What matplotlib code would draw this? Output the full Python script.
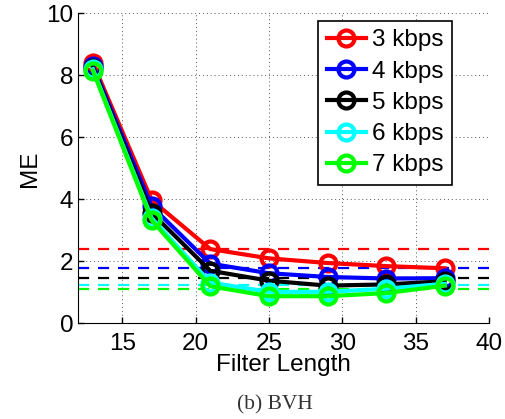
import matplotlib
matplotlib.use("Agg")
import matplotlib.pyplot as plt

# Filter lengths and ME per bit rate
filter_len = [13, 17, 21, 25, 29, 33, 37]
labels = ['3 kbps', '4 kbps', '5 kbps', '6 kbps', '7 kbps']
colors = ['#ff0000', '#0000ff', '#000000', '#00ffff', '#00ff00']
me_3k = [8.40, 3.98, 2.40, 2.10, 1.95, 1.85, 1.78]
me_4k = [8.30, 3.78, 1.93, 1.62, 1.50, 1.45, 1.46]
me_5k = [8.25, 3.57, 1.70, 1.38, 1.22, 1.26, 1.36]
me_6k = [8.20, 3.40, 1.32, 1.02, 1.02, 1.12, 1.28]
me_7k = [8.15, 3.33, 1.20, 0.88, 0.88, 0.98, 1.22]
baselines = [2.39, 1.80, 1.47, 1.25, 1.12]
series = [me_3k, me_4k, me_5k, me_6k, me_7k]

plt.rcParams['font.family'] = ['Liberation Sans', 'DejaVu Sans']

fig = plt.figure(figsize=(5.05, 4.19), dpi=100)
ax = fig.add_axes([0.155, 0.228, 0.813, 0.74])

for vals, c, lab in zip(series, colors, labels):
    ax.plot(filter_len, vals, '-o', color=c, lw=3, ms=11.5, mew=3,
            mfc='none', label=lab, zorder=3)

for b, c in zip(baselines, colors):
    ax.axhline(b, color=c, lw=1.6, ls=(0, (5, 4)), zorder=2)

ax.set_xlim(12, 40)
ax.set_ylim(0, 10)
ax.set_xticks([15, 20, 25, 30, 35, 40])
ax.set_yticks([0, 2, 4, 6, 8, 10])
ax.tick_params(direction='in', length=4, labelsize=17.5, width=1)
ax.tick_params(axis='x', pad=7)
ax.spines['top'].set_visible(False)
ax.spines['right'].set_visible(False)
ax.grid(True, ls=(0, (1, 3)), color='#555555', lw=0.7)
ax.set_xlabel('Filter Length', fontsize=17.5, labelpad=-1)
ax.set_ylabel('ME', fontsize=17.5, labelpad=4)

leg = ax.legend(loc='upper right', bbox_to_anchor=(0.91, 0.976),
                borderaxespad=0, fontsize=17.5, fancybox=False, framealpha=1,
                edgecolor='black', handlelength=1.6, handletextpad=0.25,
                labelspacing=0.38, borderpad=0.35)
leg.get_frame().set_linewidth(1.2)

fig.text(0.544, 0.033, '(b) BVH', fontsize=15.5, family='Liberation Serif',
         ha='center', va='center', color='#333333')

plt.savefig('out.png', dpi=100)
